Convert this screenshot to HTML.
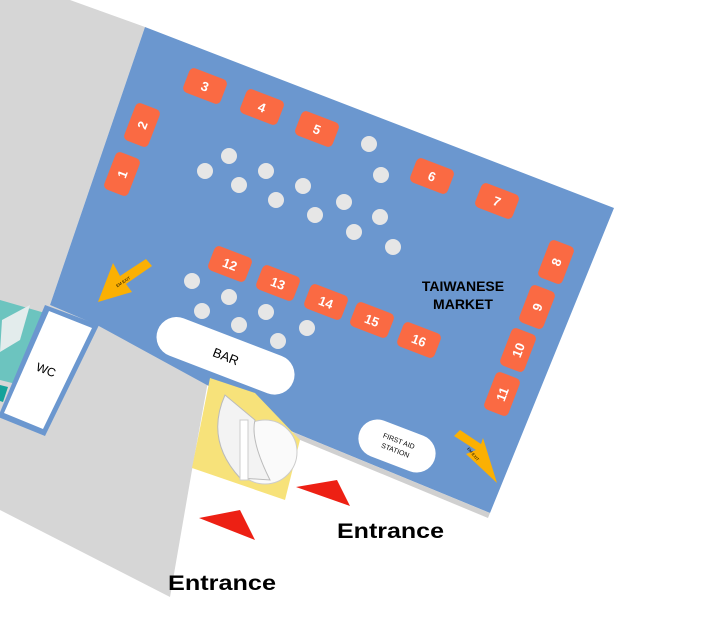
<!DOCTYPE html>
<html><head><style>body{margin:0;background:#fff}svg{display:block}text{font-family:"Liberation Sans",sans-serif}</style></head><body>
<svg width="703" height="622" viewBox="0 0 703 622">
<polygon points="0,0 70,0 145,27 50,305 97,325 210,370 192,470 170,597 0,510" fill="#d6d6d6"/>
<polygon points="0,300 45,313 20,385 0,380" fill="#6cc4bf"/>
<polygon points="2,320 30,305 20,340 0,352" fill="#e3ecec"/>
<polygon points="0,385 8,387 3,402 0,401" fill="#14a29a"/>
<polygon points="145,27 614,208 490,513 293,432 97,325 50,305" fill="#6b97cf"/>
<polygon points="293,432 490,513 488,518 293,437" fill="#d0d0d0"/>
<polygon points="45,305 99,325 45,436 -2,417" fill="#6b97cf"/>
<polygon points="49,311 92,328 43,429 4,413" fill="#fff"/>
<text x="46" y="374" font-size="12" transform="rotate(21 46 370)" text-anchor="middle">WC</text>
<polygon points="210,378 255,393 300,440 285,500 192,468" fill="#f7e27a"/>
<circle cx="265" cy="452" r="32" fill="#fafafa" stroke="#ccc"/>
<path d="M225,395 Q205,440 240,478 L270,480 Q250,440 255,420 Z" fill="#f3f3f3" stroke="#bbb"/>
<rect x="240" y="420" width="8" height="60" fill="#fff" stroke="#ccc"/>
<g fill="#fff">
<rect x="153" y="336" width="145" height="40" rx="20" transform="rotate(21 226 356)"/>
<rect x="357" y="427" width="80" height="38" rx="19" transform="rotate(21 397 446)"/>
</g>
<text x="226" y="361" font-size="13" text-anchor="middle" transform="rotate(21 226 356)">BAR</text>
<text x="397" y="443" font-size="7" text-anchor="middle" transform="rotate(21 397 446)">FIRST AID</text>
<text x="397" y="453" font-size="7" text-anchor="middle" transform="rotate(21 397 446)">STATION</text>
<g fill="#e6e6e6">
<circle cx="229" cy="156" r="8"/><circle cx="205" cy="171" r="8"/><circle cx="239" cy="185" r="8"/><circle cx="266" cy="171" r="8"/><circle cx="276" cy="200" r="8"/><circle cx="303" cy="186" r="8"/><circle cx="315" cy="215" r="8"/><circle cx="344" cy="202" r="8"/><circle cx="354" cy="232" r="8"/><circle cx="380" cy="217" r="8"/><circle cx="393" cy="247" r="8"/><circle cx="369" cy="144" r="8"/><circle cx="381" cy="175" r="8"/>
<circle cx="192" cy="281" r="8"/><circle cx="229" cy="297" r="8"/><circle cx="202" cy="311" r="8"/><circle cx="239" cy="325" r="8"/><circle cx="266" cy="312" r="8"/><circle cx="278" cy="341" r="8"/><circle cx="307" cy="328" r="8"/>
</g>
<g fill="#fa6a43" font-size="13" font-weight="bold">
<g transform="translate(205,86) rotate(21)"><rect x="-20" y="-13" width="40" height="26" rx="5"/><text fill="#fff" y="5" text-anchor="middle">3</text></g>
<g transform="translate(262,107) rotate(21)"><rect x="-20" y="-13" width="40" height="26" rx="5"/><text fill="#fff" y="5" text-anchor="middle">4</text></g>
<g transform="translate(317,129) rotate(21)"><rect x="-20" y="-13" width="40" height="26" rx="5"/><text fill="#fff" y="5" text-anchor="middle">5</text></g>
<g transform="translate(432,176) rotate(21)"><rect x="-20" y="-13" width="40" height="26" rx="5"/><text fill="#fff" y="5" text-anchor="middle">6</text></g>
<g transform="translate(497,201) rotate(21)"><rect x="-20" y="-13" width="40" height="26" rx="5"/><text fill="#fff" y="5" text-anchor="middle">7</text></g>
<g transform="translate(230,264) rotate(21)"><rect x="-20" y="-13" width="40" height="26" rx="5"/><text fill="#fff" y="5" text-anchor="middle">12</text></g>
<g transform="translate(278,283) rotate(21)"><rect x="-20" y="-13" width="40" height="26" rx="5"/><text fill="#fff" y="5" text-anchor="middle">13</text></g>
<g transform="translate(326,302) rotate(21)"><rect x="-20" y="-13" width="40" height="26" rx="5"/><text fill="#fff" y="5" text-anchor="middle">14</text></g>
<g transform="translate(372,320) rotate(21)"><rect x="-20" y="-13" width="40" height="26" rx="5"/><text fill="#fff" y="5" text-anchor="middle">15</text></g>
<g transform="translate(419,340) rotate(21)"><rect x="-20" y="-13" width="40" height="26" rx="5"/><text fill="#fff" y="5" text-anchor="middle">16</text></g>
<g transform="translate(142,125) rotate(-69)"><rect x="-20" y="-13" width="40" height="26" rx="5"/><text fill="#fff" y="5" text-anchor="middle">2</text></g>
<g transform="translate(122,174) rotate(-69)"><rect x="-20" y="-13" width="40" height="26" rx="5"/><text fill="#fff" y="5" text-anchor="middle">1</text></g>
<g transform="translate(556,262) rotate(-69)"><rect x="-20" y="-13" width="40" height="26" rx="5"/><text fill="#fff" y="5" text-anchor="middle">8</text></g>
<g transform="translate(537,307) rotate(-69)"><rect x="-20" y="-13" width="40" height="26" rx="5"/><text fill="#fff" y="5" text-anchor="middle">9</text></g>
<g transform="translate(518,350) rotate(-69)"><rect x="-20" y="-13" width="40" height="26" rx="5"/><text fill="#fff" y="5" text-anchor="middle">10</text></g>
<g transform="translate(502,394) rotate(-69)"><rect x="-20" y="-13" width="40" height="26" rx="5"/><text fill="#fff" y="5" text-anchor="middle">11</text></g>
</g>
<text x="463" y="291" font-size="14" font-weight="bold" text-anchor="middle">TAIWANESE</text>
<text x="463" y="309" font-size="14" font-weight="bold" text-anchor="middle">MARKET</text>
<polygon points="98,302 113,263 120,276 146,259 152,266 126,284 132,292" fill="#fbb003"/>
<text x="124" y="283" font-size="4" transform="rotate(-33 124 283)" text-anchor="middle">EM EXIT</text>
<polygon points="497,483 466,454 476,450 454,436 460,430 481,444 483,438" fill="#fbb003"/>
<text x="472" y="455" font-size="4" transform="rotate(50 472 455)" text-anchor="middle">EM EXIT</text>
<polygon points="296,487 337,480 350,506" fill="#ed2014"/>
<polygon points="199,518 240,510 255,540" fill="#ed2014"/>
<text x="337" y="538" font-size="21" font-weight="bold" textLength="107" lengthAdjust="spacingAndGlyphs">Entrance</text>
<text x="168" y="590" font-size="21" font-weight="bold" textLength="108" lengthAdjust="spacingAndGlyphs">Entrance</text>
</svg>
</body></html>
